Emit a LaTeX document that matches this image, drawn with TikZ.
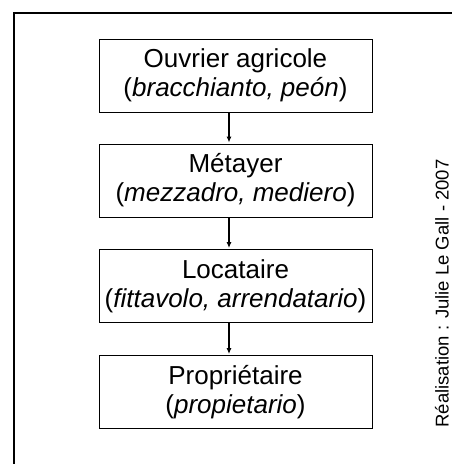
\documentclass[tikz,border=0pt]{standalone}
\usepackage{fontspec}
\setmainfont{Liberation Sans}
\usetikzlibrary{arrows.meta}

\begin{document}
\begin{tikzpicture}[x=1pt, y=-1pt,
    stagebox/.style={draw, rectangle, line width=0.9pt, minimum width=273pt, minimum height=73pt,
      inner sep=0pt, align=center, font=\fontsize{26}{29}\selectfont},
    stagearrow/.style={line width=1.2pt, -{Latex[length=6pt, width=5pt]}, shorten >=1pt}]
  \useasboundingbox (0,0) rectangle (452,464);

  % Outer frame (cut at right and bottom)
  \draw[line width=2pt] (14,470) -- (14,13) -- (460,13);

  % Stages
  \node[stagebox] (ouvrier) at (235.5,75.5) {Ouvrier agricole\\(\textit{bracchianto, peón})};
  \node[stagebox] (metayer) at (235.5,180.5) {Métayer\\(\textit{mezzadro, mediero})};
  \node[stagebox] (locataire) at (235.5,286) {Locataire\\(\textit{fittavolo, arrendatario})};
  \node[stagebox] (proprietaire) at (235.5,392) {Propriétaire\\(\textit{propietario})};

  % Arrows between stages
  \draw[stagearrow] ([xshift=-6.5pt]ouvrier.south) -- ([xshift=-6.5pt]metayer.north);
  \draw[stagearrow] ([xshift=-6.5pt]metayer.south) -- ([xshift=-6.5pt]locataire.north);
  \draw[stagearrow] ([xshift=-6.5pt]locataire.south) -- ([xshift=-6.5pt]proprietaire.north);

  % Credit
  \node[rotate=90, font=\fontsize{18.5}{20}\selectfont] (credit) at (442,293.5) {Réalisation : Julie Le Gall - 2007};

\end{tikzpicture}
\end{document}
